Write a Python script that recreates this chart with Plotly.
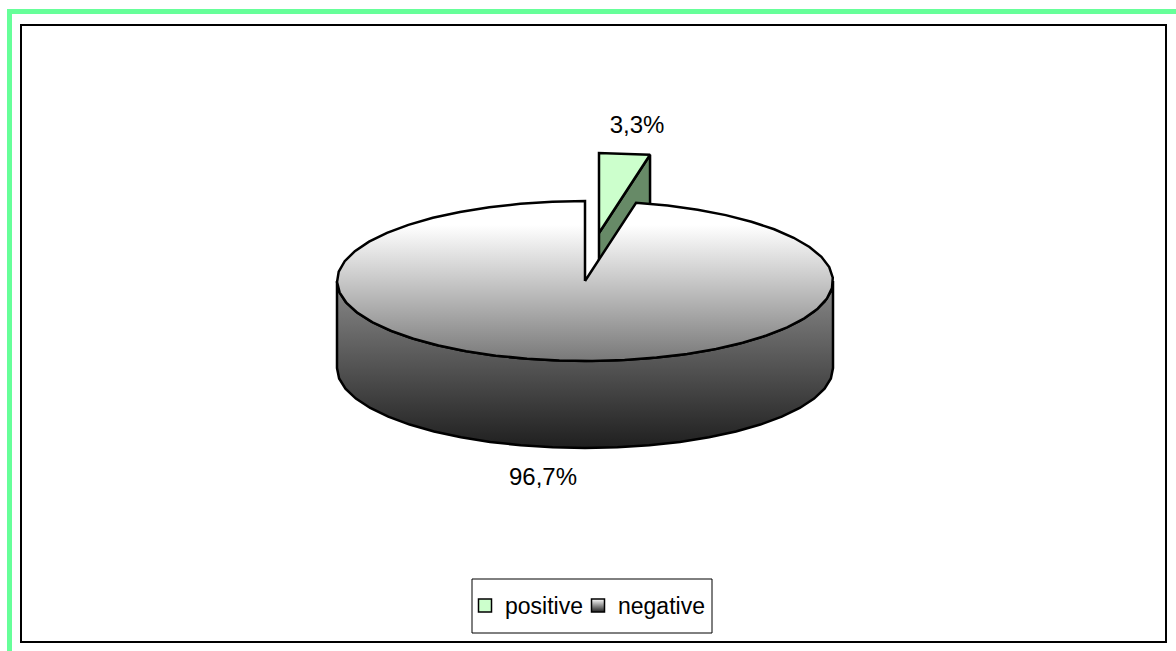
import numpy as np
import plotly.graph_objects as go

# Chart data
categories = ["positive", "negative"]
percentages = [3.3, 96.7]

# Pie geometry, in canvas units
CX, CY = 585.0, 281.0
RX, RY = 248.0, 80.0
DEPTH = 87.0
EXPLODE_X, EXPLODE_Y = 14.0, -48.0
STEP_DEG = 7.5

INK = "#000000"
LW = 2.5
FONT = "Liberation Sans"


def rim(start_deg, end_deg, cx=CX, cy=CY):
    """Points on the tilted pie rim, clockwise from twelve o'clock."""
    n = max(2, int(abs(end_deg - start_deg) / STEP_DEG) + 1)
    t = np.radians(np.linspace(start_deg, end_deg, n))
    return cx + RX * np.sin(t), cy - RY * np.cos(t)


def polygon(fig, xs, ys, **kw):
    fig.add_trace(go.Scatter(
        x=np.round(xs, 2), y=np.round(ys, 2), mode="lines", fill="toself",
        line=dict(color=INK, width=LW), hoverinfo="skip", showlegend=False, **kw))


sweep = percentages[0] / 100 * 360

fig = go.Figure()

# Exploded slice: cut face first, then its top, so the main disc can cover it
sx, sy = CX + EXPLODE_X, CY + EXPLODE_Y
ex, ey = rim(sweep, sweep, sx, sy)
polygon(fig,
        [sx, ex[0], ex[0], sx, sx],
        [sy, ey[0], ey[0] + DEPTH, sy + DEPTH, sy],
        fillcolor="#678a67")
ax, ay = rim(0, sweep, sx, sy)
polygon(fig, np.r_[sx, ax, sx], np.r_[sy, ay, sy], fillcolor="#ccffcc")

# Front wall of the main disc
fx, fy = rim(90, 270)
polygon(fig, np.r_[fx, fx[::-1], fx[0]], np.r_[fy, fy[::-1] + DEPTH, fy[0]],
        fillcolor="#808080",
        fillgradient=dict(type="vertical",
                          colorscale=[[0, "#1f1f1f"], [1, "#8a8a8a"]]))

# Top of the main disc
mx, my = rim(sweep, 360)
polygon(fig, np.r_[CX, mx, CX], np.r_[CY, my, CY],
        fillcolor="#ffffff",
        fillgradient=dict(type="vertical",
                          colorscale=[[0, "#787878"], [0.85, "#ffffff"], [1, "#ffffff"]]))

# Value labels
labels = [f"{v:.1f}%".replace(".", ",") for v in percentages]
fig.add_trace(go.Scatter(
    x=[637, 543], y=[127, 479], mode="text", text=labels,
    textposition="middle center",
    textfont=dict(family=FONT, size=24, color="#000000"),
    hoverinfo="skip", showlegend=False))

# Legend keys: one legend per entry so the spacing between them can be set
fig.add_trace(go.Scatter(
    x=[None], y=[None], mode="markers", name=categories[0], legend="legend",
    marker=dict(symbol="square", size=13, color="#ccffcc",
                line=dict(color=INK, width=1.5))))
fig.add_trace(go.Scatter(
    x=[None], y=[None], mode="markers", name=categories[1], legend="legend2",
    marker=dict(symbol="square", size=13, color="#ffffff",
                gradient=dict(type="vertical", color="#222222"),
                line=dict(color=INK, width=1.5))))

legend_style = dict(
    orientation="h", y=1 - 584 / 651, xanchor="left", yanchor="top",
    bgcolor="rgba(0,0,0,0)", borderwidth=0,
    font=dict(family=FONT, size=23, color="#000000"))

frame = dict(type="rect", xref="x", yref="y", layer="below")
fig.update_layout(
    width=1176, height=651,
    margin=dict(l=0, r=0, t=0, b=0),
    paper_bgcolor="#ffffff", plot_bgcolor="#ffffff",
    xaxis=dict(range=[0, 1176], visible=False, fixedrange=True),
    yaxis=dict(range=[651, 0], visible=False, fixedrange=True),
    legend=dict(legend_style, x=465 / 1176),
    legend2=dict(legend_style, x=578 / 1176),
    shapes=[
        # outer green border, open on the right and bottom
        dict(frame, x0=9.5, y0=11.5, x1=1190, y1=670,
             line=dict(color="#66ff99", width=5), fillcolor="#ffffff"),
        # chart area frame
        dict(frame, x0=21, y0=25, x1=1166, y1=642,
             line=dict(color=INK, width=2), fillcolor="#ffffff"),
        # legend box
        dict(frame, x0=472, y0=579, x1=712, y1=633,
             line=dict(color=INK, width=1), fillcolor="#ffffff"),
    ],
)

fig.write_html("out.html", config={"displayModeBar": False})
